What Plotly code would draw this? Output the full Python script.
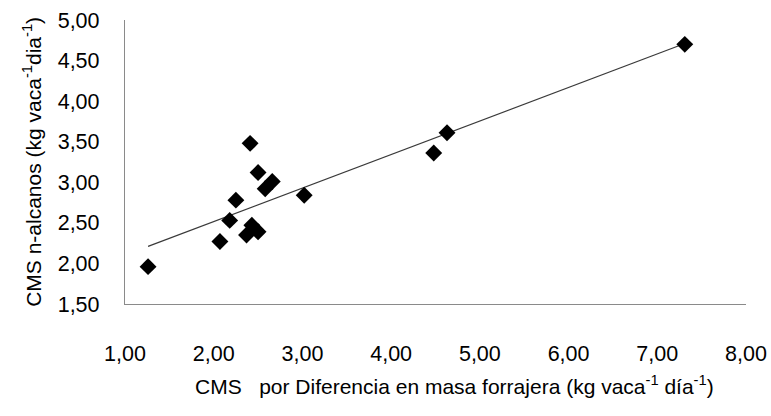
import numpy as np
import plotly.graph_objects as go

# Consumo de materia seca: diferencia en masa forrajera vs n-alcanos
cms_diferencia = [1.26, 2.07, 2.18, 2.25, 2.37, 2.43, 2.50, 2.41, 2.50, 2.58, 2.66, 3.02, 4.48, 4.63, 7.31]
cms_alcanos = [1.96, 2.27, 2.53, 2.78, 2.35, 2.47, 2.39, 3.48, 3.12, 2.92, 3.01, 2.84, 3.36, 3.61, 4.70]

x_ticks = [1, 2, 3, 4, 5, 6, 7, 8]
x_labels = ["1,00", "2,00", "3,00", "4,00", "5,00", "6,00", "7,00", "8,00"]
y_ticks = [1.5, 2.0, 2.5, 3.0, 3.5, 4.0, 4.5, 5.0]
y_labels = ["1,50", "2,00", "2,50", "3,00", "3,50", "4,00", "4,50", "5,00"]

# Linear trend fitted to the observations
slope, intercept = np.polyfit(cms_diferencia, cms_alcanos, 1)
trend_x = [min(cms_diferencia), max(cms_diferencia)]
trend_y = [intercept + slope * v for v in trend_x]

FONT = "Liberation Sans, Arial, sans-serif"
AXIS_GREY = "#8a8a8a"

fig = go.Figure()
fig.add_trace(go.Scatter(
    x=trend_x, y=trend_y, mode="lines",
    line=dict(color="#3a3a3a", width=1.2),
    hoverinfo="skip", showlegend=False,
))
fig.add_trace(go.Scatter(
    x=cms_diferencia, y=cms_alcanos, mode="markers",
    marker=dict(symbol="diamond", size=13, color="black", line=dict(width=0)),
    showlegend=False,
))

fig.update_layout(
    width=771, height=416,
    margin=dict(l=125, r=25, t=20, b=112),
    paper_bgcolor="white", plot_bgcolor="white",
    font=dict(family=FONT, color="black", size=21),
    xaxis=dict(
        range=[1, 8], tickvals=x_ticks, ticktext=x_labels,
        showgrid=False, zeroline=False, showline=True,
        linecolor=AXIS_GREY, linewidth=1.3, ticks="",
        ticklabelstandoff=30, tickfont=dict(size=21.5),
        automargin=False,
    ),
    yaxis=dict(
        range=[1.5, 5.0], tickvals=y_ticks, ticktext=y_labels,
        showgrid=False, zeroline=False, showline=True,
        linecolor=AXIS_GREY, linewidth=1.3, ticks="",
        ticklabelstandoff=20, tickfont=dict(size=21.5),
        automargin=False,
    ),
    annotations=[
        dict(
            text="CMS\u00a0\u00a0 por Diferencia en masa forrajera (kg vaca<sup>-1</sup> día<sup>-1</sup>)",
            xref="paper", yref="paper", x=0.53, y=-0.285,
            xanchor="center", yanchor="middle", showarrow=False,
            font=dict(size=21),
        ),
        dict(
            text="CMS n-alcanos (kg vaca<sup>-1</sup>dia<sup>-1</sup>)",
            xref="paper", yref="paper", x=-0.15, y=0.5,
            xanchor="center", yanchor="middle", showarrow=False,
            textangle=-90, font=dict(size=21),
        ),
    ],
)

fig.write_html("out.html")
